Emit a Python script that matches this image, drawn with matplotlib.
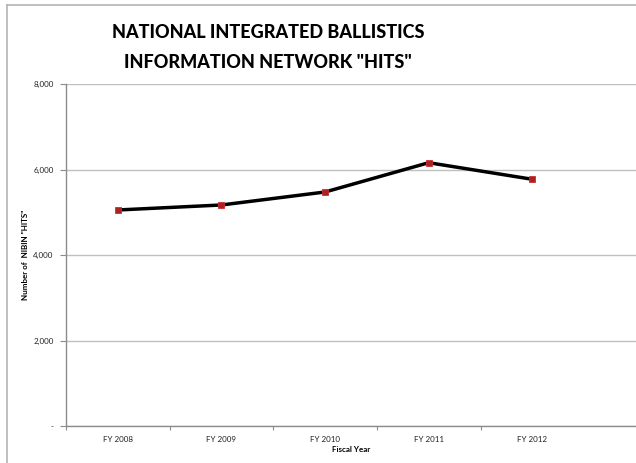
import matplotlib.pyplot as plt
from matplotlib import lines
from matplotlib.ticker import FuncFormatter

years = ['FY 2008', 'FY 2009', 'FY 2010', 'FY 2011', 'FY 2012']
hits = [5053, 5170, 5474, 6159, 5771]
yticks = [0, 2000, 4000, 6000, 8000]

W, H = 636, 463
fig = plt.figure(figsize=(W / 100, H / 100), dpi=100)
ax = fig.add_axes([66 / W, (H - 426) / H, (W - 66) / W, (426 - 84) / H])

x = list(range(len(years)))
ax.plot(x, hits, color='black', lw=2.5, zorder=3,
        marker='s', ms=5, mfc='#a82424', mec='#c83030', mew=0.6)

ax.set_xlim(-0.5, 5.0)
ax.set_ylim(0, 8000)
ax.set_yticks(yticks)
ax.yaxis.set_major_formatter(FuncFormatter(lambda v, p: '-' if v == 0 else f'{int(v):,}'))
ax.set_xticks(x)
ax.set_xticklabels(years)
ax.set_xticks([i - 0.5 for i in range(len(years))], minor=True)

ax.grid(axis='y', color='#c0c0c0', lw=1)
ax.set_axisbelow(True)
for s in ['top', 'right']:
    ax.spines[s].set_visible(False)
for s in ['left', 'bottom']:
    ax.spines[s].set_color('#8c8c8c')
    ax.spines[s].set_linewidth(1)

fam = ['Lato', 'DejaVu Sans']
ax.tick_params(axis='y', length=4, width=0.8, color='#8c8c8c', labelsize=5.8, pad=5)
ax.tick_params(axis='x', which='major', length=0, labelsize=5.8, pad=7)
ax.tick_params(axis='x', which='minor', length=3, width=0.8, color='#8c8c8c')
for lab in ax.get_xticklabels() + ax.get_yticklabels():
    lab.set_family(fam)
    lab.set_color('#222222')

ax.set_xlabel('Fiscal Year', fontsize=5.8, fontweight='bold', family=fam, labelpad=2)
ax.set_ylabel('Number of  NIBIN "HITS"', fontsize=5.8, fontweight='bold', family=fam, labelpad=3)

fig.text(268 / W, 1 - 33 / H, 'NATIONAL INTEGRATED BALLISTICS', ha='center', va='center',
         fontsize=13, fontweight='black', family=fam)
fig.text(268 / W, 1 - 62 / H, 'INFORMATION NETWORK "HITS"', ha='center', va='center',
         fontsize=13, fontweight='black', family=fam)

# outer chart frame
fig.add_artist(lines.Line2D([7 / W, 7 / W], [0, 1 - 5 / H], color='#b4b4b4', lw=1.2))
fig.add_artist(lines.Line2D([7 / W, 1], [1 - 5 / H, 1 - 5 / H], color='#b4b4b4', lw=1.2))

fig.savefig('out.png', dpi=100)
